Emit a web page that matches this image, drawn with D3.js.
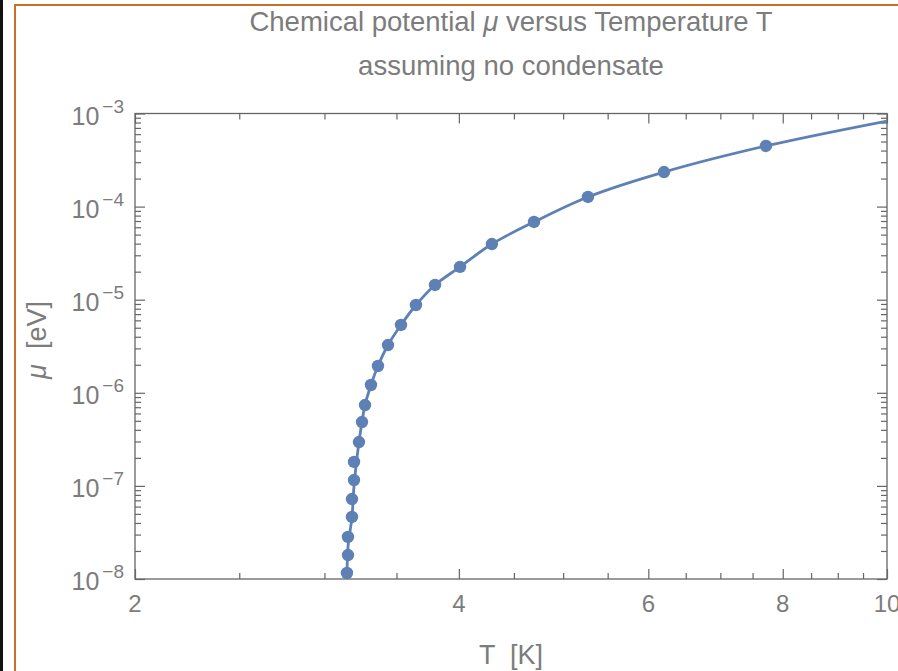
<!DOCTYPE html>
<html>
<head>
<meta charset="utf-8">
<script src="https://cdn.jsdelivr.net/npm/d3@7"></script>
<style>
  body { margin: 0; background: #fff; }
  text { font-family: "Liberation Sans", Arial, sans-serif; fill: #7c7c7c; }
</style>
</head>
<body>
<svg width="898" height="671"></svg>
<script>
// sampled points (T in K, mu in eV)
const temps = [3.148, 3.155, 3.155, 3.182, 3.182, 3.196, 3.196, 3.230, 3.251, 3.272, 3.314,
               3.364, 3.437, 3.534, 3.649, 3.801, 4.010, 4.293, 4.698, 5.273, 6.205, 7.718];
const mus = [1.16e-8, 1.81e-8, 2.83e-8, 4.64e-8, 7.23e-8, 1.156e-7, 1.81e-7, 2.96e-7, 4.85e-7,
             7.39e-7, 1.213e-6, 1.94e-6, 3.26e-6, 5.35e-6, 8.77e-6, 1.44e-5, 2.25e-5, 3.96e-5,
             6.84e-5, 1.27e-4, 2.35e-4, 4.48e-4];

// fitted curve, runs past the frame at both ends
const curveT = [3.14, 3.148, 3.155, 3.182, 3.196, 3.230, 3.251, 3.272, 3.314, 3.364, 3.437,
                3.534, 3.649, 3.801, 4.010, 4.293, 4.698, 5.273, 6.205, 7.718, 10];
const curveMu = [6e-9, 1.16e-8, 2.2e-8, 4.64e-8, 1.0e-7, 2.96e-7, 4.85e-7, 7.39e-7, 1.213e-6,
                 1.94e-6, 3.26e-6, 5.35e-6, 8.77e-6, 1.44e-5, 2.25e-5, 3.96e-5, 6.84e-5,
                 1.27e-4, 2.35e-4, 4.48e-4, 8.3e-4];

const xMajor = [2, 4, 6, 8, 10];
const xMinor = [2.5, 3, 3.5, 4.5, 5, 5.5, 6.5, 7, 7.5, 8.5, 9, 9.5];
const yExponents = [-8, -7, -6, -5, -4, -3];
const yMinorMult = [2, 3, 4, 5, 6, 7, 8, 9];

const svg = d3.select("svg");
const margin = { top: 113.5, right: 11, bottom: 92, left: 135 };
const width = +svg.attr("width") - margin.left - margin.right;
const height = +svg.attr("height") - margin.top - margin.bottom;
const blue = "#5e81b5";

// page edges
svg.append("line").attr("x1", 1.5).attr("x2", 1.5).attr("y1", 0).attr("y2", 671)
    .attr("stroke", "#111").attr("stroke-width", 3);
svg.append("path").attr("d", "M15,671V5H898")
    .attr("fill", "none").attr("stroke", "#c8702a").attr("stroke-width", 2);

const x = d3.scaleLog().domain([2, 10]).range([0, width]);
const y = d3.scaleLog().domain([1e-8, 1e-3]).range([height, 0]);

const yMajor = yExponents.map(e => Math.pow(10, e));
const yMinor = [];
yExponents.slice(0, -1).forEach(e => yMinorMult.forEach(m => yMinor.push(m * Math.pow(10, e))));

const g = svg.append("g")
    .attr("transform", `translate(${margin.left},${margin.top})`);

g.append("clipPath").attr("id", "plot")
    .append("rect").attr("width", width).attr("height", height);

// ticks on all four sides, pointing inward
function ticks(axis, vals, size, tr) {
    const a = g.append("g").attr("transform", tr)
        .call(axis.tickValues(vals).tickSize(size).tickFormat(""));
    a.select(".domain").remove();
    a.selectAll("line").attr("stroke", "#666").attr("stroke-width", 1.2);
    return a;
}
ticks(d3.axisBottom(x), xMinor, -6, `translate(0,${height})`);
ticks(d3.axisBottom(x), xMajor, -10, `translate(0,${height})`);
ticks(d3.axisTop(x), xMinor, -6, "");
ticks(d3.axisTop(x), xMajor, -10, "");
ticks(d3.axisLeft(y), yMinor, -6, "");
ticks(d3.axisLeft(y), yMajor, -10, "");
ticks(d3.axisRight(y), yMinor, -6, `translate(${width},0)`);
ticks(d3.axisRight(y), yMajor, -10, `translate(${width},0)`);

g.append("rect").attr("width", width).attr("height", height)
    .attr("fill", "none").attr("stroke", "#666").attr("stroke-width", 1.3);

// x tick labels (the last one runs off the page, as in the original)
g.selectAll(".xlab").data(xMajor).enter().append("text")
    .attr("class", "xlab")
    .attr("x", d => x(d)).attr("y", height + 33)
    .attr("text-anchor", "middle").attr("font-size", 24)
    .text(d => d);

// y tick labels as 10 with superscript exponent
const yl = g.selectAll(".ylab").data(yExponents).enter().append("text")
    .attr("class", "ylab")
    .attr("x", -11).attr("y", d => y(Math.pow(10, d)) + 11)
    .attr("text-anchor", "end").attr("font-size", 25);
yl.append("tspan").text("10");
yl.append("tspan").attr("dx", 3).attr("dy", -12).attr("font-size", 19).text(d => "\u2212" + (-d));

// curve and points
const line = d3.line()
    .x((d, i) => x(curveT[i]))
    .y(d => y(d))
    .curve(d3.curveCatmullRom);

const plot = g.append("g").attr("clip-path", "url(#plot)");
plot.append("path")
    .datum(curveMu)
    .attr("d", line)
    .attr("fill", "none").attr("stroke", blue).attr("stroke-width", 2.8);

plot.selectAll(".dot").data(mus).enter().append("circle")
    .attr("class", "dot")
    .attr("cx", (d, i) => x(temps[i]))
    .attr("cy", d => y(d))
    .attr("r", 6.2)
    .attr("fill", blue);

// titles
svg.append("text").attr("x", margin.left + width / 2).attr("y", 31)
    .attr("text-anchor", "middle").attr("font-size", 27.5)
    .call(t => {
        t.append("tspan").text("Chemical potential ");
        t.append("tspan").attr("font-style", "italic").text("\u03bc");
        t.append("tspan").text(" versus Temperature T");
    });
svg.append("text").attr("x", margin.left + width / 2).attr("y", 75)
    .attr("text-anchor", "middle").attr("font-size", 27.5)
    .text("assuming no condensate");

svg.append("text").attr("x", margin.left + width / 2).attr("y", 664)
    .attr("text-anchor", "middle").attr("font-size", 27)
    .attr("xml:space", "preserve")
    .text("T  [K]");

svg.append("text")
    .attr("transform", "translate(46,340) rotate(-90)")
    .attr("text-anchor", "middle").attr("font-size", 27)
    .attr("xml:space", "preserve")
    .call(t => {
        t.append("tspan").attr("font-style", "italic").text("\u03bc");
        t.append("tspan").text("  [eV]");
    });
</script>
</body>
</html>
